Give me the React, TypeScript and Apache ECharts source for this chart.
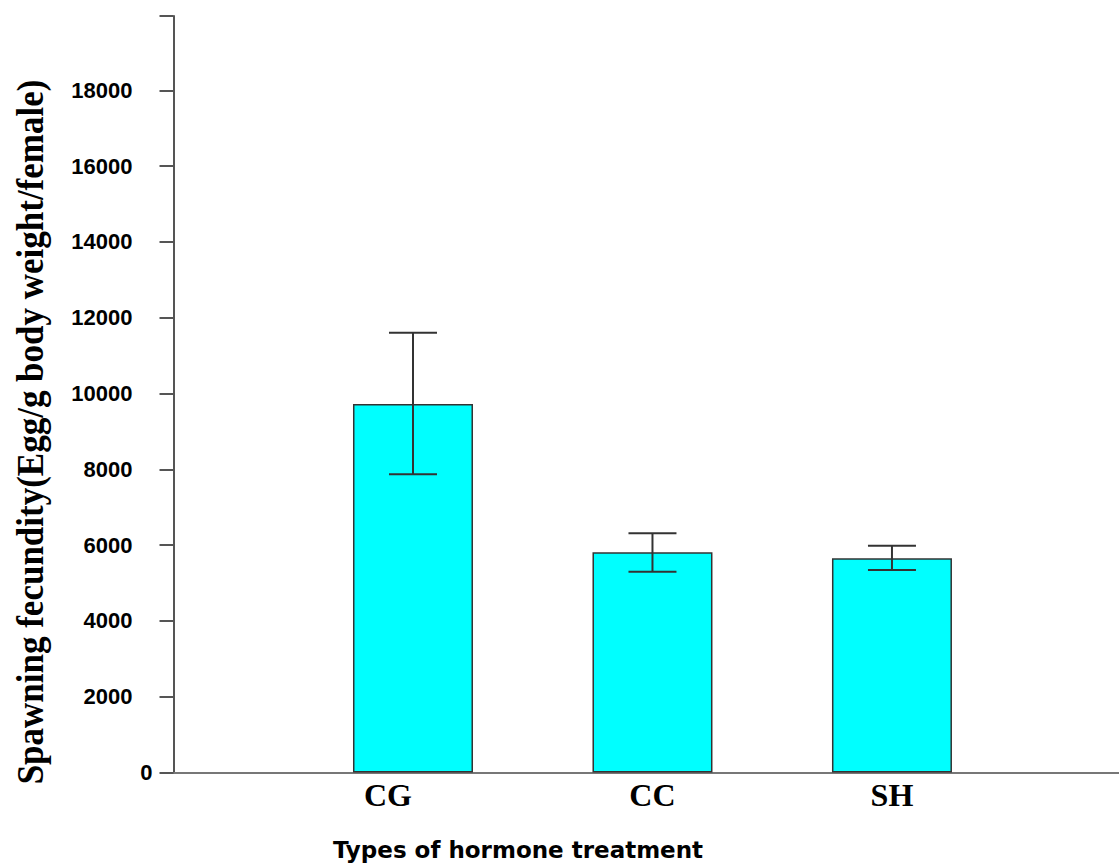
import React, { useEffect, useRef } from "react";
import * as echarts from "echarts";

const categories = ["CG", "CC", "SH"];
const means = [9720, 5810, 5650];
const errLow = [7870, 5300, 5340];
const errHigh = [11600, 6310, 5980];
const yTicks = [0, 2000, 4000, 6000, 8000, 10000, 12000, 14000, 16000, 18000];
const yTitle = "Spawning fecundity(Egg/g body weight/female)";
const xTitle = "Types of hormone treatment";

export default function App() {
  const ref = useRef<HTMLDivElement>(null);
  useEffect(() => {
    if (!ref.current) return;
    const chart = echarts.init(ref.current, null, { renderer: "svg" });
    const labelFont = { fontFamily: "Liberation Serif", fontWeight: "bold" as const, fontSize: 32, color: "#000" };
    const tickFont = { fontFamily: "Liberation Sans", fontWeight: "bold" as const, fontSize: 22, color: "#000" };
    chart.setOption({
      animation: false,
      backgroundColor: "#fff",
      grid: { left: 173.5, right: 0, top: 16, bottom: 94.5, containLabel: false },
      xAxis: {
        type: "value",
        min: 0,
        max: 3.948,
        interval: 1,
        axisLine: { show: true, lineStyle: { color: "#777", width: 2 } },
        axisTick: { show: false },
        splitLine: { show: false },
        axisLabel: {
          margin: 6,
          showMaxLabel: false,
          ...labelFont,
          formatter: (v: number) => {
            const c = Number.isInteger(v) ? categories[v - 1] : undefined;
            if (!c) return "";
            return c === "CG" ? "{cg|CG}" : c;
          },
          rich: { cg: { ...labelFont, padding: [0, 50, 0, 0] } },
        },
      },
      yAxis: {
        type: "value",
        min: 0,
        max: 19960,
        interval: 2000,
        axisLine: { show: true, lineStyle: { color: "#555", width: 2 } },
        axisTick: { show: true, length: 14, lineStyle: { color: "#555", width: 2 } },
        splitLine: { show: false },
        axisLabel: {
          margin: 21,
          ...tickFont,
          formatter: (v: number) => {
            if (!yTicks.includes(v)) return "";
            return v === 0 ? "0" : "{n|" + v + "}";
          },
          rich: { n: { ...tickFont, padding: [0, 20, 0, 0] } },
        },
      },
      graphic: [
        {
          type: "text",
          x: 30,
          y: 432,
          rotation: Math.PI / 2,
          scaleY: 1.1,
          style: {
            text: yTitle,
            font: "bold 35px 'Liberation Serif'",
            fill: "#000",
            textAlign: "center",
            textVerticalAlign: "middle",
          },
        },
        {
          type: "text",
          x: 518,
          y: 850,
          style: {
            text: xTitle,
            font: "bold 23px 'DejaVu Sans'",
            fill: "#000",
            textAlign: "center",
            textVerticalAlign: "middle",
          },
        },
      ],
      series: [
        {
          type: "bar",
          data: categories.map((c, i) => [i + 1, means[i]]),
          barWidth: 120,
          itemStyle: { color: "#00FFFF", borderColor: "#333", borderWidth: 1.5 },
        },
        {
          type: "custom",
          data: categories.map((c, i) => [i + 1, errLow[i], errHigh[i]]),
          renderItem: (params: any, api: any) => {
            const x = api.value(0);
            const lo = api.coord([x, api.value(1)]);
            const hi = api.coord([x, api.value(2)]);
            const hw = 24;
            const style = { stroke: "#333", lineWidth: 2 };
            return {
              type: "group",
              children: [
                { type: "line", shape: { x1: lo[0], y1: lo[1], x2: hi[0], y2: hi[1] }, style },
                { type: "line", shape: { x1: hi[0] - hw, y1: hi[1], x2: hi[0] + hw, y2: hi[1] }, style },
                { type: "line", shape: { x1: lo[0] - hw, y1: lo[1], x2: lo[0] + hw, y2: lo[1] }, style },
              ],
            };
          },
          z: 10,
        },
      ],
    });
    return () => chart.dispose();
  }, []);
  return (
    <div
      ref={ref}
      style={{ position: "absolute", left: 0, top: 0, width: 1119, height: 867 }}
    />
  );
}
